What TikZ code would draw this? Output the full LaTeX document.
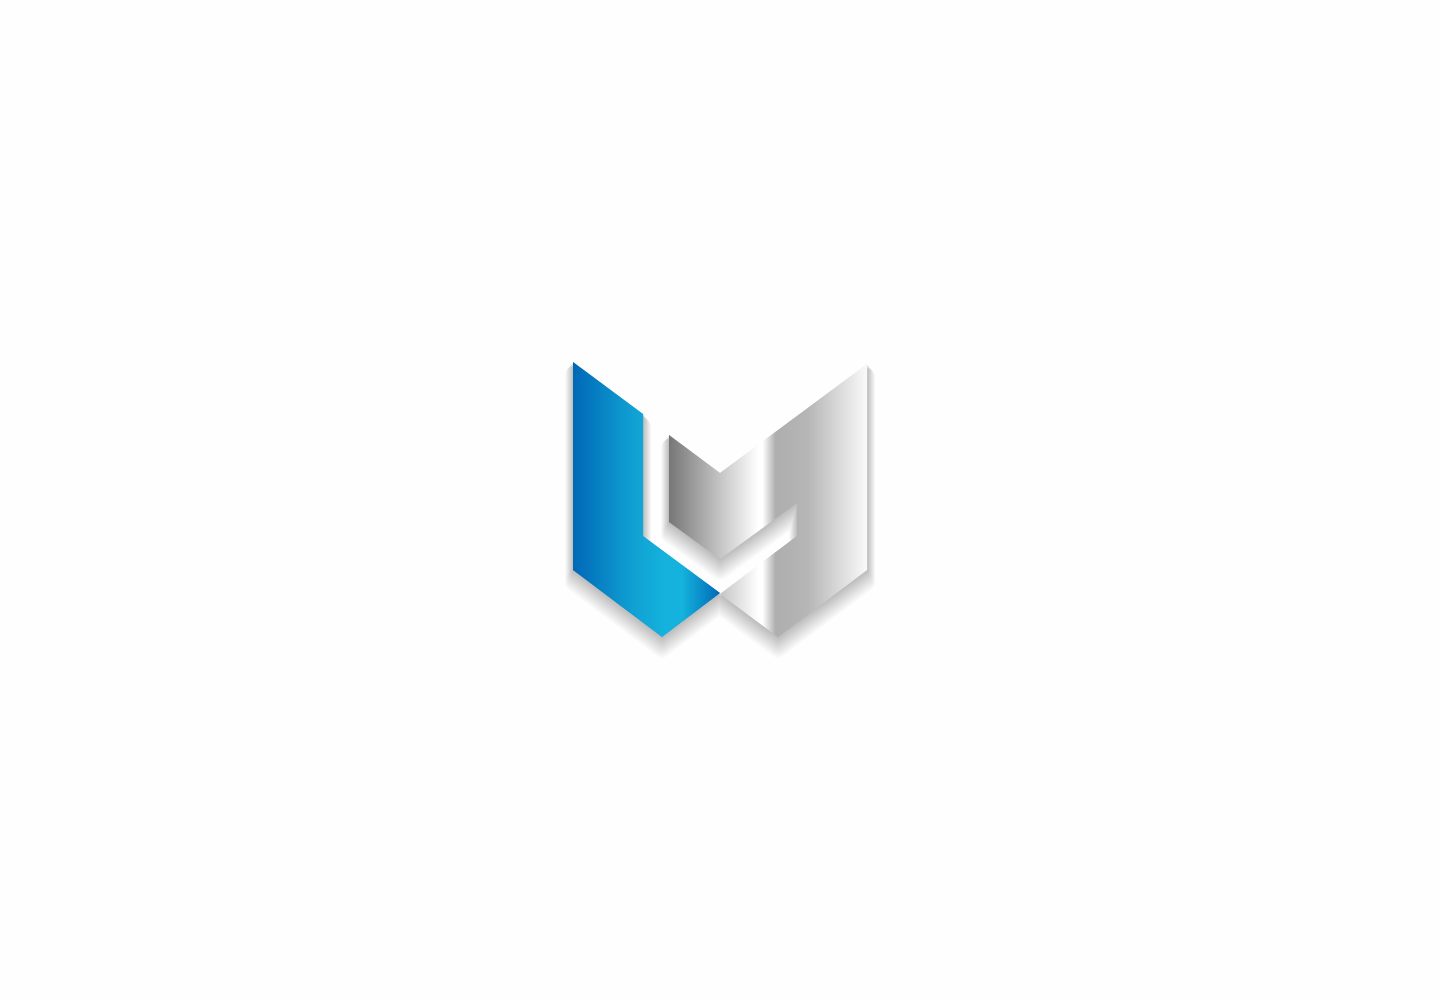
\documentclass[tikz,border=0pt]{standalone}
\definecolor{logoa}{HTML}{0068B7}
\definecolor{logob}{HTML}{14B2DC}
\definecolor{logoc}{HTML}{10A0D2}
\definecolor{graya}{HTML}{777777}
\definecolor{grayb}{HTML}{AEAEAE}
\definecolor{grayc}{HTML}{B6B6B6}
\definecolor{grayd}{HTML}{FAFAFA}
\definecolor{paper}{HTML}{FEFEFE}
\pgfdeclarehorizontalshading{logoblue}{100bp}{color(0bp)=(logoa); color(25bp)=(logoa); color(45bp)=(logoc); color(56bp)=(logob); color(62bp)=(logob); color(75bp)=(logoa); color(100bp)=(logoa)}
\pgfdeclarehorizontalshading{logogray}{100bp}{color(0bp)=(graya); color(25bp)=(graya); color(47.5bp)=(white); color(48.5bp)=(white); color(51.8bp)=(grayb); color(60bp)=(grayc); color(75bp)=(grayd); color(100bp)=(grayd)}
\newcommand{\bluepath}{(573,362) -- (643,414) -- (643,536) -- (720,593) -- (662,637) -- (573,570) -- cycle}
\newcommand{\graypath}{(720,473) -- (867,364) -- (867,570) -- (778,637) -- (720,594) -- (797,536) -- (797,503) -- (720,559) -- (669,522) -- (669,435) -- cycle}
\tikzset{
	softshadow/.style={draw=black, fill=black, line join=round},
}
\begin{document}
\begin{tikzpicture}[x=0.01cm,y=-0.01cm]
	\useasboundingbox (0,0) rectangle (1440,1000);
	\fill[paper] (0,0) rectangle (1440,1000);
	% shadows
	\foreach \r in {0.5,1,...,8} {
		\begin{scope}[transparency group, opacity=0.014, shift={(0,1.6*\r)}]
			\path[softshadow, line width=0.569*\r pt] \bluepath;
			\path[softshadow, line width=0.569*\r pt] \graypath;
		\end{scope}
	}
	% logo
	\shade[shading=logoblue] \bluepath;
	\shade[shading=logogray] \graypath;
\end{tikzpicture}
\end{document}
